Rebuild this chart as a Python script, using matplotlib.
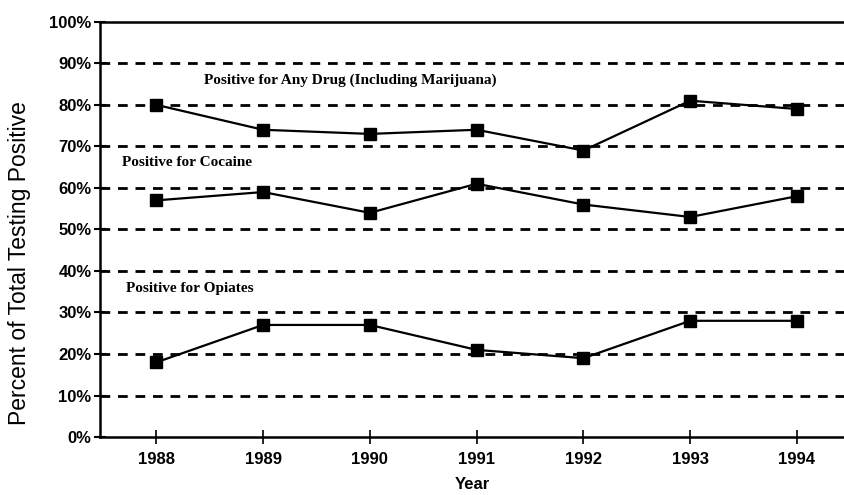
import matplotlib
matplotlib.use("Agg")
import matplotlib.pyplot as plt
from matplotlib.ticker import FuncFormatter

years = [1988, 1989, 1990, 1991, 1992, 1993, 1994]
any_drug = [80, 74, 73, 74, 69, 81, 79]
cocaine = [57, 59, 54, 61, 56, 53, 58]
opiates = [18, 27, 27, 21, 19, 28, 28]

series_labels = [
    ("Positive for Any Drug (Including Marijuana)", 1988.45, 85.8),
    ("Positive for Cocaine", 1987.68, 66.0),
    ("Positive for Opiates", 1987.72, 35.7),
]

fig = plt.figure(figsize=(8.45, 4.95), dpi=100)
ax = fig.add_axes([0.118, 0.117, 0.882, 0.839])

for yv in range(10, 100, 10):
    ax.axhline(yv, color="black", lw=2, ls=(0, (3.5, 2.8)), zorder=1)

for vals in (any_drug, cocaine, opiates):
    ax.plot(years, vals, color="black", lw=1.6, marker="s", markersize=9, zorder=3)

for text, x, y in series_labels:
    ax.text(x, y, text, family="Liberation Serif", fontweight="bold",
            fontsize=11, va="center", ha="left")

ax.set_xlim(1987.47, 1994.45)
ax.set_ylim(0, 100)
ax.set_yticks(range(0, 101, 10))
ax.yaxis.set_major_formatter(FuncFormatter(lambda v, p: f"{int(v)}%"))
ax.set_xticks(years)

for s in ("left", "bottom", "top"):
    ax.spines[s].set_linewidth(1.8)
ax.spines["right"].set_visible(False)

ax.tick_params(axis="y", direction="inout", length=8, width=1.5, pad=2)
ax.tick_params(axis="x", direction="inout", length=10, width=1.2, pad=6)
for lbl in ax.get_xticklabels() + ax.get_yticklabels():
    lbl.set_fontweight("bold")
    lbl.set_fontsize(12)
    lbl.set_family("Liberation Sans")

ax.set_xlabel("Year", fontweight="bold", fontsize=12, family="Liberation Sans", labelpad=7)
ax.set_ylabel("Percent of Total Testing Positive", fontsize=16.5, family="Liberation Sans")
ax.yaxis.set_label_coords(-0.092, 0.42)

fig.savefig("out.png", dpi=100)
